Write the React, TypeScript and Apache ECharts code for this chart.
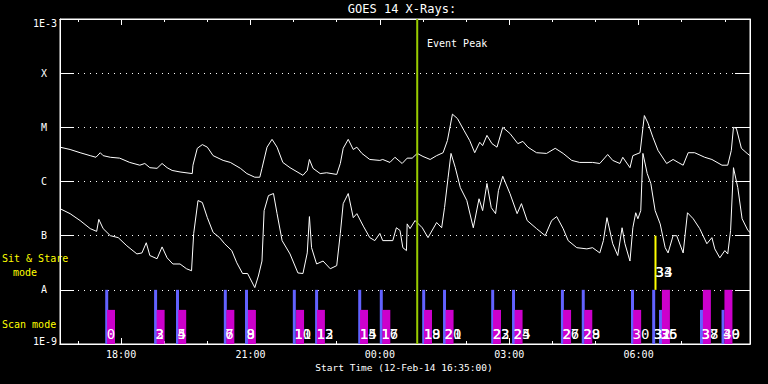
import React, { useEffect, useRef } from 'react';
import * as echarts from 'echarts';

// ---------- data ----------
const START = '16:35';
const END = '08:35';
const majorTicks = ['18:00', '21:00', '00:00', '03:00', '06:00'];
const minorTicks = ['17:00', '19:00', '20:00', '22:00', '23:00', '01:00', '02:00', '04:00', '05:00', '07:00', '08:00'];
const yTickLabels = ['1E-9', 'A', 'B', 'C', 'M', 'X', '1E-3'];

// GOES 14 long channel (1-8 A), W/m^2
const longChannel: [string, number][] = [
  ['16:35', 4.3e-6], ['16:49', 3.9e-6], ['17:03', 3.4e-6], ['17:17', 3.0e-6], ['17:25', 2.8e-6], ['17:31', 3.4e-6],
  ['17:35', 3.0e-6], ['17:45', 2.8e-6], ['17:58', 2.7e-6], ['18:12', 2.25e-6], ['18:26', 2.0e-6], ['18:33', 2.15e-6],
  ['18:40', 1.8e-6], ['18:50', 1.75e-6], ['18:57', 2.15e-6], ['19:04', 1.8e-6], ['19:11', 1.6e-6], ['19:22', 1.5e-6],
  ['19:39', 1.4e-6], ['19:40', 2.0e-6], ['19:46', 4.1e-6], ['19:53', 4.8e-6], ['20:00', 4.3e-6], ['20:08', 3.0e-6],
  ['20:22', 2.45e-6], ['20:32', 2.25e-6], ['20:46', 1.75e-6], ['20:55', 1.4e-6], ['21:06', 1.2e-6], ['21:13', 1.2e-6],
  ['21:16', 1.75e-6], ['21:23', 4.3e-6], ['21:30', 6.0e-6], ['21:37', 4.3e-6], ['21:45', 2.25e-6], ['21:55', 1.8e-6],
  ['22:09', 1.4e-6], ['22:13', 1.3e-6], ['22:19', 1.6e-6], ['22:22', 2.55e-6], ['22:27', 1.75e-6], ['22:37', 1.4e-6],
  ['22:46', 1.45e-6], ['23:00', 1.35e-6], ['23:05', 2.15e-6], ['23:09', 4.1e-6], ['23:16', 6.0e-6], ['23:23', 3.9e-6],
  ['23:28', 4.3e-6], ['23:35', 3.3e-6], ['23:46', 2.55e-6], ['00:00', 2.45e-6], ['00:04', 2.55e-6], ['00:14', 2.25e-6],
  ['00:21', 2.8e-6], ['00:31', 2.15e-6], ['00:38', 2.7e-6], ['00:45', 2.7e-6], ['00:52', 3.3e-6], ['01:00', 2.9e-6],
  ['01:10', 2.55e-6], ['01:19', 3.0e-6], ['01:28', 3.4e-6], ['01:34', 5.7e-6], ['01:41', 1.75e-5], ['01:48', 1.45e-5],
  ['01:57', 8.8e-6], ['02:05', 5.7e-6], ['02:12', 3.4e-6], ['02:19', 5.3e-6], ['02:23', 4.6e-6], ['02:29', 7.1e-6],
  ['02:36', 5.0e-6], ['02:43', 4.3e-6], ['02:51', 1.0e-5], ['03:01', 7.7e-6], ['03:12', 5.0e-6], ['03:19', 5.5e-6],
  ['03:26', 4.3e-6], ['03:38', 3.4e-6], ['03:52', 3.3e-6], ['04:04', 4.1e-6], ['04:15', 3.3e-6], ['04:27', 2.45e-6],
  ['04:38', 2.25e-6], ['04:56', 2.25e-6], ['05:06', 2.15e-6], ['05:17', 3.15e-6], ['05:24', 2.45e-6], ['05:34', 2.15e-6],
  ['05:38', 2.8e-6], ['05:48', 1.8e-6], ['05:52', 3.0e-6], ['06:02', 3.4e-6], ['06:08', 1.65e-5], ['06:13', 1.2e-5],
  ['06:20', 6.5e-6], ['06:27', 3.75e-6], ['06:39', 2.15e-6], ['06:48', 2.55e-6], ['06:55', 2.25e-6], ['07:02', 2.0e-6],
  ['07:09', 3.4e-6], ['07:18', 3.4e-6], ['07:32', 2.8e-6], ['07:42', 2.55e-6], ['07:56', 2.0e-6], ['08:04', 2.0e-6],
  ['08:09', 3.75e-6], ['08:12', 1.0e-5], ['08:16', 9.6e-6], ['08:23', 4.1e-6], ['08:31', 3.3e-6], ['08:35', 3.0e-6],
];

// GOES 14 short channel (0.5-4 A), W/m^2
const shortChannel: [string, number][] = [
  ['16:35', 3.15e-7], ['16:49', 2.55e-7], ['17:03', 1.9e-7], ['17:17', 1.35e-7], ['17:26', 1.2e-7], ['17:29', 2.0e-7],
  ['17:35', 1.35e-7], ['17:45', 1.0e-7], ['17:56', 9.2e-8], ['18:08', 6.5e-8], ['18:22', 4.6e-8], ['18:29', 4.8e-8],
  ['18:35', 7.4e-8], ['18:40', 4.3e-8], ['18:50', 3.75e-8], ['18:57', 6.2e-8], ['19:04', 3.9e-8], ['19:12', 3.0e-8],
  ['19:22', 3.0e-8], ['19:31', 2.45e-8], ['19:38', 2.25e-8], ['19:41', 1.1e-7], ['19:47', 4.45e-7], ['19:53', 4.1e-7],
  ['20:00', 2.15e-7], ['20:08', 1.15e-7], ['20:17', 9.2e-8], ['20:24', 7.1e-8], ['20:34', 5.3e-8], ['20:41', 3.15e-8],
  ['20:49', 2.0e-8], ['20:56', 2.0e-8], ['21:06', 1.1e-8], ['21:11', 1.8e-8], ['21:16', 3.4e-8], ['21:19', 2.9e-7],
  ['21:25', 5.5e-7], ['21:32', 6.0e-7], ['21:37', 2.55e-7], ['21:44', 8.1e-8], ['21:55', 4.6e-8], ['22:06', 2.05e-8],
  ['22:13', 2.0e-8], ['22:19', 4.8e-8], ['22:22', 2.25e-7], ['22:25', 6.0e-8], ['22:32', 3.0e-8], ['22:41', 3.4e-8],
  ['22:51', 2.45e-8], ['23:00', 2.8e-8], ['23:05', 1.1e-7], ['23:09', 3.9e-7], ['23:16', 6.0e-7], ['23:23', 2.15e-7],
  ['23:28', 2.55e-7], ['23:37', 1.5e-7], ['23:46', 9.2e-8], ['23:53', 8.1e-8], ['00:00', 1.1e-7], ['00:04', 8.1e-8],
  ['00:18', 8.1e-8], ['00:23', 1.4e-7], ['00:28', 1.25e-7], ['00:32', 6.0e-8], ['00:37', 5.3e-8], ['00:38', 1.65e-7],
  ['00:42', 1.35e-7], ['00:49', 1.9e-7], ['00:59', 1.4e-7], ['01:07', 9.2e-8], ['01:19', 1.75e-7], ['01:26', 1.4e-7],
  ['01:30', 3.3e-7], ['01:35', 1.2e-6], ['01:39', 3.3e-6], ['01:45', 1.8e-6], ['01:52', 7.7e-7], ['02:01', 4.45e-7],
  ['02:10', 1.4e-7], ['02:18', 4.8e-7], ['02:23', 2.9e-7], ['02:29', 9.2e-7], ['02:35', 3.3e-7], ['02:41', 2.55e-7],
  ['02:45', 6.8e-7], ['02:51', 1.25e-6], ['03:01', 6.0e-7], ['03:11', 2.55e-7], ['03:17', 3.9e-7], ['03:25', 1.9e-7],
  ['03:38', 1.35e-7], ['03:50', 1.0e-7], ['03:59', 1.9e-7], ['04:06', 2.25e-7], ['04:15', 1.35e-7], ['04:22', 8.1e-8],
  ['04:34', 6.0e-8], ['04:48', 5.7e-8], ['04:56', 6.0e-8], ['05:06', 4.8e-8], ['05:11', 8.1e-8], ['05:16', 2.15e-7],
  ['05:24', 7.1e-8], ['05:31', 4.3e-8], ['05:37', 1.4e-7], ['05:41', 7.1e-8], ['05:48', 3.4e-8], ['05:52', 1.4e-7],
  ['05:56', 2.65e-7], ['05:59', 2.05e-7], ['06:03', 2.9e-7], ['06:06', 3.3e-6], ['06:12', 1.4e-6], ['06:17', 9.2e-7],
  ['06:23', 2.9e-7], ['06:30', 1.65e-7], ['06:37', 6.0e-8], ['06:41', 4.8e-8], ['06:48', 1.0e-7], ['06:53', 1.0e-7],
  ['07:02', 4.8e-8], ['07:08', 2.65e-7], ['07:16', 2.05e-7], ['07:25', 1.35e-7], ['07:35', 7.1e-8], ['07:42', 9.2e-8],
  ['07:46', 5.7e-8], ['07:53', 3.9e-8], ['08:00', 5.3e-8], ['08:04', 4.6e-8], ['08:08', 1.25e-7], ['08:12', 1.8e-6],
  ['08:18', 7.7e-7], ['08:24', 2.05e-7], ['08:32', 1.25e-7], ['08:35', 1.15e-7],
];

// scan-mode observations: [time, relative height within the scan panel]
const blueScans: [string, number][] = [
  ['17:40', 1], ['18:48', 1], ['19:18.5', 1], ['20:25', 1], ['20:54.5', 1], ['22:01', 1], ['22:32', 1],
  ['23:32', 1], ['00:02', 1], ['01:01', 1], ['01:30', 1], ['02:37', 1], ['03:06', 1], ['04:14', 1],
  ['04:43', 1], ['05:51.5', 1], ['06:21', 1], ['06:30.5', 0.63], ['07:27.5', 0.63], ['07:57.5', 0.63],
];
const magentaScans: [string, number][] = [
  ['17:46', 0.63], ['18:55', 0.63], ['19:25', 0.63], ['20:32', 0.63], ['21:02', 0.63], ['22:09', 0.63],
  ['22:38', 0.63], ['23:38', 0.63], ['00:09', 0.63], ['01:07', 0.63], ['01:37', 0.63], ['02:43', 0.63],
  ['03:13', 0.63], ['04:20.5', 0.63], ['04:50', 0.63], ['05:58', 0.63], ['06:38', 1], ['07:35', 1], ['08:05', 1],
];
const scanLabels: string[][] = [
  ['0'], ['2', '3'], ['4', '5'], ['6', '7'], ['8', '9'], ['10', '11'], ['12', '13'], ['14', '15'], ['16', '17'],
  ['18', '19'], ['20', '21'], ['22', '23'], ['24', '25'], ['26', '27'], ['28', '29'], ['30'], ['31', '32'],
  ['35', '36'], ['37', '38'], ['39', '40'],
];
// sit & stare observation
const sitStare: { time: string; labels: string[] } = { time: '06:23.5', labels: ['33', '34'] };
const eventPeak = '00:52';

// ---------- helpers ----------
const DAY0 = Date.UTC(2014, 1, 12);
function toMs(hhmm: string): number {
  const [hs, ms] = hhmm.split(':');
  const h = Number(hs);
  const m = Number(ms);
  const day = h < 12 ? 1 : 0;
  return DAY0 + day * 86400000 + h * 3600000 + m * 60000;
}
function fmtTime(v: number): string {
  const d = new Date(v);
  const hh = String(d.getUTCHours()).padStart(2, '0');
  const mm = String(d.getUTCMinutes()).padStart(2, '0');
  return hh + ':' + mm;
}

const FONT = '"DejaVu Sans Mono", monospace';
const BLUE = '#6262ff';
const MAGENTA = '#cc00cc';
const LIME = '#99cc00';
const YELLOW = '#ffff00';
const LABEL_LEVEL = 0.18; // in scan-panel units
const SS_LABEL_LEVEL = 1.33;

export default function App() {
  const ref = useRef<HTMLDivElement>(null);

  useEffect(() => {
    if (!ref.current) return;
    const chart = echarts.init(ref.current, undefined, { renderer: 'svg' });
    const tMin = toMs(START);
    const tMax = toMs(END);
    const majorMs = majorTicks.map(toMs);
    const minorMs = minorTicks.map(toMs);

    const xBase: any = {
      type: 'value',
      min: tMin,
      max: tMax,
      splitLine: { show: false },
      axisLine: { show: true, onZero: false, lineStyle: { color: '#fff', width: 1 } },
    };

    const labelItems: { t: number; text: string; level: number }[] = [];
    blueScans.forEach((b, i) => {
      (scanLabels[i] || []).forEach((s) => labelItems.push({ t: toMs(b[0]), text: s, level: LABEL_LEVEL }));
    });
    sitStare.labels.forEach((s) => labelItems.push({ t: toMs(sitStare.time), text: s, level: SS_LABEL_LEVEL }));

    const makeBars = (arr: [string, number][], color: string, w: number, dx: number) => ({
      type: 'custom',
      xAxisIndex: 0,
      yAxisIndex: 2,
      silent: true,
      data: arr.map(([t, h]) => [toMs(t), h]),
      renderItem: (params: any, api: any) => {
        const t = api.value(0);
        const h = api.value(1);
        const p0 = api.coord([t, 0]);
        const p1 = api.coord([t, h]);
        return {
          type: 'rect',
          shape: { x: p0[0] + dx, y: p1[1], width: w, height: p0[1] - p1[1] },
          style: { fill: color },
        };
      },
    });

    const option: any = {
      animation: false,
      backgroundColor: '#000',
      grid: { left: 60, top: 19, right: 18, bottom: 40, show: true, borderColor: '#fff', borderWidth: 1 },
      xAxis: [
        {
          ...xBase,
          position: 'bottom',
          axisTick: { show: true, inside: true, length: 6, customValues: majorMs, lineStyle: { color: '#fff' } },
          axisLabel: {
            show: true,
            customValues: majorMs,
            formatter: (v: number) => fmtTime(v),
            color: '#fff',
            fontFamily: FONT,
            fontSize: 10,
            margin: 5,
          },
        },
        {
          ...xBase,
          position: 'bottom',
          axisTick: { show: true, inside: true, length: 3, customValues: minorMs, lineStyle: { color: '#fff' } },
          axisLabel: { show: false },
        },
        {
          ...xBase,
          position: 'top',
          axisTick: { show: true, inside: true, length: 6, customValues: majorMs, lineStyle: { color: '#fff' } },
          axisLabel: { show: false },
        },
        {
          ...xBase,
          position: 'top',
          axisTick: { show: true, inside: true, length: 3, customValues: minorMs, lineStyle: { color: '#fff' } },
          axisLabel: { show: false },
        },
      ],
      yAxis: [
        {
          type: 'log',
          logBase: 10,
          min: 1e-9,
          max: 1e-3,
          splitNumber: 6,
          position: 'left',
          axisLine: { show: true, onZero: false, lineStyle: { color: '#fff', width: 1 } },
          axisTick: { show: true, inside: true, length: 14, lineStyle: { color: '#fff' } },
          minorTick: { show: false },
          splitLine: { show: true, lineStyle: { color: '#fff', width: 1, type: [1, 5] } },
          axisLabel: {
            show: true,
            margin: 3,
            color: '#fff',
            fontFamily: FONT,
            fontSize: 10,
            formatter: (v: number) => {
              const e = Math.round(Math.log10(v));
              const s = yTickLabels[e + 9] || '';
              if (e === -3) return '{top|' + s + '}';
              if (e === -9) return '{bot|' + s + '}';
              return '{cls|' + s + '}';
            },
            rich: {
              top: { color: '#fff', fontFamily: FONT, fontSize: 10, padding: [8, 0, 0, 0] },
              bot: { color: '#fff', fontFamily: FONT, fontSize: 10, padding: [0, 0, 6, 0] },
              cls: { color: '#fff', fontFamily: FONT, fontSize: 10, padding: [0, 10, 0, 0] },
            },
          },
        },
        {
          type: 'log',
          logBase: 10,
          min: 1e-9,
          max: 1e-3,
          splitNumber: 6,
          position: 'right',
          axisLine: { show: true, onZero: false, lineStyle: { color: '#fff', width: 1 } },
          axisTick: { show: true, inside: true, length: 15, lineStyle: { color: '#fff' } },
          minorTick: { show: false },
          splitLine: { show: false },
          axisLabel: { show: false },
        },
        { type: 'value', min: 0, max: 6, show: false, splitLine: { show: false } },
      ],
      series: [
        makeBars(blueScans, BLUE, 3, -1.5),
        makeBars(magentaScans, MAGENTA, 8, -4),
        {
          type: 'line',
          xAxisIndex: 0,
          yAxisIndex: 0,
          data: longChannel.map(([t, v]) => [toMs(t), v]),
          symbol: 'none',
          showSymbol: false,
          silent: true,
          lineStyle: { color: '#fff', width: 1 },
        },
        {
          type: 'line',
          xAxisIndex: 0,
          yAxisIndex: 0,
          data: shortChannel.map(([t, v]) => [toMs(t), v]),
          symbol: 'none',
          showSymbol: false,
          silent: true,
          lineStyle: { color: '#fff', width: 1 },
        },
        {
          type: 'line',
          xAxisIndex: 0,
          yAxisIndex: 0,
          data: [[toMs(eventPeak), 1e-9], [toMs(eventPeak), 1e-3]],
          symbol: 'none',
          silent: true,
          lineStyle: { color: LIME, width: 2 },
        },
        {
          type: 'line',
          xAxisIndex: 0,
          yAxisIndex: 0,
          data: [[toMs(sitStare.time), 1e-8], [toMs(sitStare.time), 1e-7]],
          symbol: 'none',
          silent: true,
          lineStyle: { color: YELLOW, width: 2 },
        },
        {
          type: 'custom',
          xAxisIndex: 0,
          yAxisIndex: 2,
          silent: true,
          z: 5,
          data: labelItems.map((d) => [d.t, d.level]),
          renderItem: (params: any, api: any) => {
            const item = labelItems[params.dataIndex];
            const p = api.coord([api.value(0), api.value(1)]);
            return {
              type: 'text',
              x: p[0],
              y: p[1],
              style: {
                text: item.text,
                fill: '#fff',
                fontSize: 14,
                fontFamily: FONT,
                textAlign: 'left',
                textVerticalAlign: 'middle',
                align: 'left',
                verticalAlign: 'middle',
              },
            };
          },
        },
      ],
      graphic: [
        {
          type: 'text', x: 402, y: 9,
          style: { text: 'GOES 14 X-Rays:', fill: '#fff', fontSize: 12, fontFamily: FONT, textAlign: 'center', textVerticalAlign: 'middle', align: 'center', verticalAlign: 'middle' },
        },
        {
          type: 'text', x: 427, y: 43,
          style: { text: 'Event Peak', fill: '#fff', fontSize: 10, fontFamily: FONT, textAlign: 'left', textVerticalAlign: 'middle', align: 'left', verticalAlign: 'middle' },
        },
        {
          type: 'text', x: 404, y: 367,
          style: { text: 'Start Time (12-Feb-14 16:35:00)', fill: '#fff', fontSize: 9.5, fontFamily: FONT, textAlign: 'center', textVerticalAlign: 'middle', align: 'center', verticalAlign: 'middle' },
        },
        {
          type: 'text', x: 2, y: 258,
          style: { text: 'Sit & Stare', fill: YELLOW, fontSize: 10, fontFamily: FONT, textAlign: 'left', textVerticalAlign: 'middle', align: 'left', verticalAlign: 'middle' },
        },
        {
          type: 'text', x: 13, y: 272,
          style: { text: 'mode', fill: YELLOW, fontSize: 10, fontFamily: FONT, textAlign: 'left', textVerticalAlign: 'middle', align: 'left', verticalAlign: 'middle' },
        },
        {
          type: 'text', x: 2, y: 324,
          style: { text: 'Scan mode', fill: YELLOW, fontSize: 10, fontFamily: FONT, textAlign: 'left', textVerticalAlign: 'middle', align: 'left', verticalAlign: 'middle' },
        },
      ],
    };

    chart.setOption(option);
    return () => chart.dispose();
  }, []);

  return (
    <div
      ref={ref}
      style={{ position: 'fixed', left: 0, top: 0, width: 768, height: 384, background: '#000' }}
    />
  );
}
